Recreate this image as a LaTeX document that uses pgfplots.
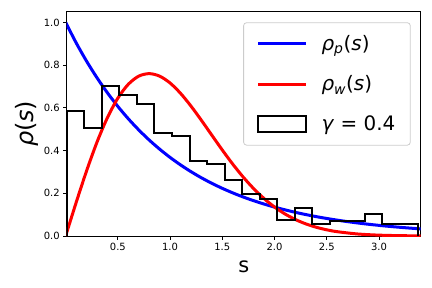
\documentclass[border=0pt]{standalone}
\usepackage{pgfplots}
\pgfplotsset{compat=1.18}
\usepackage{fontspec}
\setmainfont{DejaVu Sans}
\begin{document}
\begin{tikzpicture}
\begin{axis}[
  at={(0,0)}, anchor=south west,
  scale only axis, width=354bp, height=224.3bp,
  xmin=0.01, xmax=3.40, ymin=0, ymax=1.05,
  xtick={0.5,1.0,1.5,2.0,2.5,3.0},
  ytick={0,0.2,0.4,0.6,0.8,1.0},
  xticklabel style={/pgf/number format/.cd, fixed, fixed zerofill, precision=1},
  yticklabel style={/pgf/number format/.cd, fixed, fixed zerofill, precision=1},
  /pgf/number format/assume math mode=true,
  tick label style={font=\fontsize{10}{12}\selectfont},
  tick align=outside, major tick length=3.5bp,
  tick style={black, line width=0.8bp},
  xtick pos=bottom, ytick pos=left,
  axis line style={line width=0.8bp},
  xlabel={s}, ylabel={\textit{ρ}(\textit{s})},
  xlabel style={font=\fontsize{21}{24}\selectfont, yshift=-3bp},
  ylabel style={font=\fontsize{24}{28}\selectfont, yshift=-1bp},
  clip=true,
  legend style={at={(1,1)}, anchor=north east, xshift=-10bp, yshift=-10.6bp,
    font=\fontsize{20}{24}\selectfont, draw=black!20, line width=0.8bp, rounded corners=3bp,
    inner xsep=13bp, inner ysep=11bp, row sep=19.5bp,
    /tikz/every odd column/.append style={column sep=12bp},
    cells={anchor=west}},
  legend cell align=left,
]
\addplot[blue, line width=3bp, smooth, legend image code/.code={\draw[blue, line width=3bp] (0bp,0bp) -- (48bp,0bp);}] coordinates {
(0,1) (0.1,0.9048) (0.2,0.8187) (0.3,0.7408) (0.4,0.6703) (0.5,0.6065)
(0.6,0.5488) (0.7,0.4966) (0.8,0.4493) (0.9,0.4066) (1.0,0.3679)
(1.1,0.3329) (1.2,0.3012) (1.3,0.2725) (1.4,0.2466) (1.5,0.2231)
(1.6,0.2019) (1.7,0.1827) (1.8,0.1653) (1.9,0.1496) (2.0,0.1353)
(2.1,0.1225) (2.2,0.1108) (2.3,0.1003) (2.4,0.0907) (2.5,0.0821)
(2.6,0.0743) (2.7,0.0672) (2.8,0.0608) (2.9,0.0550) (3.0,0.0498)
(3.1,0.0450) (3.2,0.0408) (3.3,0.0369) (3.4,0.0334)};
\addlegendentry{\textit{ρ}\textsubscript{\textit{p}}(\textit{s})}
\addplot[red, line width=3bp, smooth, legend image code/.code={\draw[red, line width=3bp] (0bp,0bp) -- (48bp,0bp);}] coordinates {
(0,0) (0.1,0.1559) (0.2,0.3044) (0.3,0.4391) (0.4,0.5541) (0.5,0.6454)
(0.6,0.7103) (0.7,0.7483) (0.8,0.7601) (0.9,0.7483) (1.0,0.7162)
(1.1,0.6680) (1.2,0.6083) (1.3,0.5415) (1.4,0.4718) (1.5,0.4025)
(1.6,0.3365) (1.7,0.2759) (1.8,0.2220) (1.9,0.1753) (2.0,0.1358)
(2.1,0.1033) (2.2,0.0772) (2.3,0.0567) (2.4,0.0409) (2.5,0.0290)
(2.6,0.0202) (2.8,0.0093) (3.0,0.0040) (3.2,0.0016) (3.4,0.0006)};
\addlegendentry{\textit{ρ}\textsubscript{\textit{w}}(\textit{s})}
\addplot[black, line width=2bp, const plot, legend image code/.code={\draw[black, line width=2bp, sharp corners] (0bp,-8bp) rectangle (48bp,8bp);}] coordinates {
(0.01,0) (0.01,0.586) (0.178,0.504) (0.346,0.703) (0.514,0.661) (0.682,0.619)
(0.850,0.483) (1.018,0.469) (1.186,0.351) (1.354,0.338) (1.522,0.262)
(1.690,0.195) (1.858,0.173) (2.026,0.073) (2.194,0.131) (2.362,0.056)
(2.530,0.072) (2.698,0.072) (2.866,0.103) (3.034,0.056) (3.202,0.056)
(3.370,0.056) (3.370,0)};
\addlegendentry{\textit{γ} = 0.4}
\end{axis}
\pgfresetboundingbox
\path (-66.7bp,-52bp) rectangle (365.3bp,236bp);
\end{tikzpicture}
\end{document}
